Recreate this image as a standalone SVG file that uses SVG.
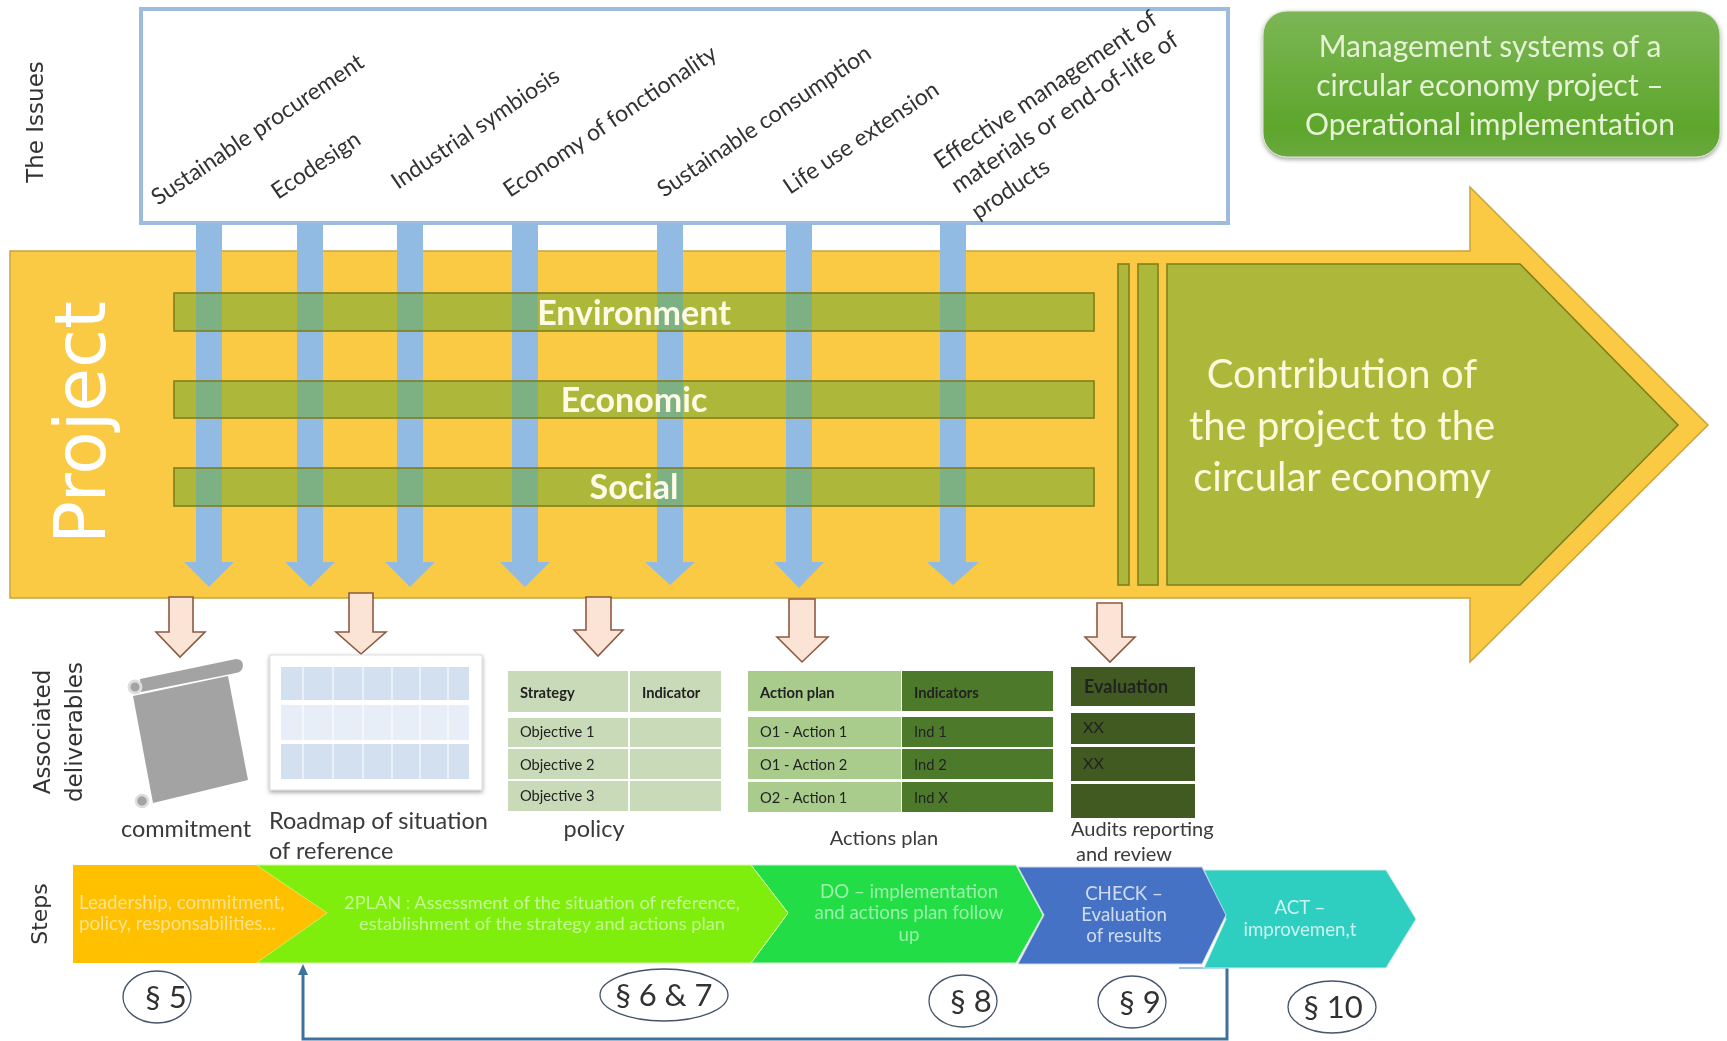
<svg xmlns="http://www.w3.org/2000/svg" width="1727" height="1041" viewBox="0 0 1727 1041">
<style>
text{font-family:Lato,"Liberation Sans",sans-serif}
.v{font-family:"DejaVu Sans",sans-serif;fill:#333;font-size:23px;text-anchor:middle}
.iss{font-size:23px;fill:#333}
.iss2{font-size:24px;fill:#333}
.band{fill:#6ba834;fill-opacity:.54;stroke:#7f7f1c;stroke-width:1.6}
.bandt{font-size:34px;font-weight:700;fill:#fdfbe6;text-anchor:middle}
.blue{fill:#92bbe3}
.peach{fill:#fbe4d5;stroke:#8c5a42;stroke-width:1.6}
.cap{font-size:23.5px;fill:#3a3a3a}
.cap2{font-size:20px;fill:#3a3a3a}
.st{font-size:18.7px;text-anchor:middle;fill-opacity:.75;fill:#fff}
.st2{font-size:18.7px;fill-opacity:.55;fill:#fff}
.st3{font-size:18.2px;fill-opacity:.55;fill:#fff;text-anchor:middle}
.el{fill:#fff;stroke:#44546a;stroke-width:1.3}
.par{font-size:31px;fill:#333;text-anchor:middle}
.tt{font-size:14.7px;fill:#222}
.c1{fill:#c9dab8}.c2{fill:#a9cc8c}.c3{fill:#4e7a2c}.c4{fill:#3f5a22}
</style>
<defs>
<linearGradient id="tg" x1="0" y1="0" x2="0" y2="1"><stop offset="0" stop-color="#7cb655"/><stop offset=".8" stop-color="#5da62c"/><stop offset="1" stop-color="#6aa83e"/></linearGradient>
<filter id="sh" x="-5%" y="-5%" width="110%" height="115%"><feDropShadow dx="0" dy="2" stdDeviation="2" flood-color="#555" flood-opacity=".55"/></filter>
<filter id="soft" filterUnits="userSpaceOnUse" x="0" y="0" width="1727" height="1041"><feGaussianBlur stdDeviation=".55"/></filter>
</defs>
<g id="diagram" filter="url(#soft)">
<g id="issues-box">
<rect x="141" y="9" width="1087" height="214" fill="#fff" stroke="#9dbbdc" stroke-width="4"/>
<text class="iss" transform="translate(158 206) rotate(-34)">Sustainable procurement</text>
<text class="iss" transform="translate(278 200) rotate(-34)">Ecodesign</text>
<text class="iss" transform="translate(398 190) rotate(-34)">Industrial symbiosis</text>
<text class="iss" transform="translate(510 198) rotate(-34)">Economy of fonctionality</text>
<text class="iss" transform="translate(664 198) rotate(-34)">Sustainable consumption</text>
<text class="iss" transform="translate(790 195) rotate(-34)">Life use extension</text>
<text class="iss2" transform="translate(941 170) rotate(-34)">Effective management of</text>
<text class="iss2" transform="translate(958 194) rotate(-34)">materials or end-of-life of</text>
<text class="iss" transform="translate(978 220) rotate(-34)">products</text>
</g>

<g id="title">
<rect x="1263" y="11" width="457" height="146" rx="24" fill="url(#tg)" stroke="#dfe8d6" stroke-width="1" filter="url(#sh)"/>
<g font-size="30" fill="#e6f2d6" text-anchor="middle">
<text x="1490" y="57">Management systems of a</text>
<text x="1490" y="96">circular economy project –</text>
<text x="1490" y="135">Operational implementation</text>
</g>
</g>

<g id="project-arrow">
<path d="M10 251H1470V187L1708 425L1470 662V598H10Z" fill="#fbca45" stroke="#c9a23a" stroke-width="1.5"/>
<text transform="translate(105 544) rotate(-90)" style="font-family:'DejaVu Sans',sans-serif" font-size="71" fill="#fff">Project</text>
</g>

<g id="connectors">
<g id="issue-arrows">
<path class="blue" d="M196 224H222V562H234L209 587L184 562H196Z"/>
<path class="blue" d="M297 224H323V562H335L310 587L285 562H297Z"/>
<path class="blue" d="M397 224H423V562H435L410 587L385 562H397Z"/>
<path class="blue" d="M512 224H538V562H550L525 587L500 562H512Z"/>
<path class="blue" d="M657 224H683V562H695L670 585L645 562H657Z"/>
<path class="blue" d="M786 224H812V562H824L799 588L774 562H786Z"/>
<path class="blue" d="M940 224H966V562H979L953 585L927 562H940Z"/>
</g>
<g id="deliverable-arrows">
<path class="peach" d="M169 597H193V632H205L180 657L156 632H169Z"/>
<path class="peach" d="M349 593H373V632H386L361 654L336 632H349Z"/>
<path class="peach" d="M586 597H611V630H623L598 656L574 630H586Z"/>
<path class="peach" d="M789 599H815V637H828L802 662L777 637H789Z"/>
<path class="peach" d="M1097 603H1122V637H1135L1110 662L1085 637H1097Z"/>
</g>
<g id="feedback" fill="none">
<path d="M1179 968H1227" stroke="#9dc3e6" stroke-width="2"/>
<path d="M1227 968V1039H303V972" stroke="#41719c" stroke-width="3"/>
<path d="M303 964L308 975H298Z" fill="#41719c"/>
</g>
</g>

<g id="contribution">
<rect x="1118" y="264" width="11" height="321" class="band"/>
<rect x="1138" y="264" width="20" height="321" class="band"/>
<path d="M1167 264H1520L1678 425L1520 585H1167Z" class="band"/>
<g font-size="40" fill="#fbf8dc" text-anchor="middle">
<text x="1342" y="388">Contribution of</text>
<text x="1342" y="440">the project to the</text>
<text x="1342" y="491">circular economy</text>
</g>
</g>

<g id="band-environment"><rect x="174" y="293" width="920" height="38" class="band"/><text class="bandt" x="634" y="325">Environment</text></g>
<g id="band-economic"><rect x="174" y="381" width="920" height="37" class="band"/><text class="bandt" x="634" y="412">Economic</text></g>
<g id="band-social"><rect x="174" y="468" width="920" height="38" class="band"/><text class="bandt" x="634" y="499">Social</text></g>

<text class="v" transform="translate(43 122) rotate(-90)">The Issues</text>
<text class="v" transform="translate(50 732) rotate(-90)">Associated</text>
<text class="v" transform="translate(82 732) rotate(-90)">deliverables</text>
<text class="v" transform="translate(47 914) rotate(-90)" style="font-size:22px">Steps</text>

<g id="scroll">
<path d="M133 696L228 676L248 780L153 803Z" fill="#a3a3a3"/>
<path d="M140 679L236 659Q243 659 243 666Q242 672 236 673L141 692Z" fill="#a3a3a3"/>
<circle cx="135" cy="687" r="6" fill="#a3a3a3" stroke="#ddd" stroke-width="3"/>
<circle cx="142" cy="801" r="6" fill="#a3a3a3" stroke="#ddd" stroke-width="2.5"/>
</g>

<g id="roadmap">
<rect x="270" y="655" width="212" height="135" fill="#fff" stroke="#ddd" filter="url(#sh)"/>
<rect x="281" y="667" width="188" height="33" fill="#d3e0f0"/>
<rect x="281" y="705" width="188" height="35" fill="#e8eef7"/>
<rect x="281" y="744" width="188" height="35" fill="#d3e0f0"/>
<path d="M303 667V779M333 667V779M363 667V779M392 667V779M420 667V779M448 667V779" stroke="#fff" stroke-opacity=".5" stroke-width="2"/>
</g>

<g id="policy-table">
<rect class="c1" x="508" y="671" width="120" height="41"/><rect class="c1" x="630" y="671" width="91" height="41"/>
<rect class="c1" x="508" y="718" width="120" height="29"/><rect class="c1" x="630" y="718" width="91" height="29"/>
<rect class="c1" x="508" y="749" width="120" height="30"/><rect class="c1" x="630" y="749" width="91" height="30"/>
<rect class="c1" x="508" y="781" width="120" height="30"/><rect class="c1" x="630" y="781" width="91" height="30"/>
<text class="tt" x="520" y="698" font-weight="700">Strategy</text>
<text class="tt" x="642" y="698" font-weight="700">Indicator</text>
<text class="tt" x="520" y="737">Objective 1</text>
<text class="tt" x="520" y="770">Objective 2</text>
<text class="tt" x="520" y="801">Objective 3</text>
</g>

<g id="action-table">
<rect class="c2" x="748" y="671" width="153" height="40"/><rect class="c3" x="902" y="671" width="151" height="40"/>
<rect class="c2" x="748" y="717" width="153" height="30"/><rect class="c3" x="902" y="717" width="151" height="30"/>
<rect class="c2" x="748" y="749" width="153" height="30"/><rect class="c3" x="902" y="749" width="151" height="30"/>
<rect class="c2" x="748" y="782" width="153" height="30"/><rect class="c3" x="902" y="782" width="151" height="30"/>
<text class="tt" x="760" y="698" font-weight="700">Action plan</text>
<text class="tt" x="914" y="698" font-weight="700">Indicators</text>
<text class="tt" x="760" y="737">O1 - Action 1</text>
<text class="tt" x="914" y="737">Ind 1</text>
<text class="tt" x="760" y="770">O1 - Action 2</text>
<text class="tt" x="914" y="770">Ind 2</text>
<text class="tt" x="760" y="803">O2 - Action 1</text>
<text class="tt" x="914" y="803">Ind X</text>
</g>

<g id="evaluation-table">
<rect class="c4" x="1071" y="667" width="124" height="39"/>
<rect class="c4" x="1071" y="713" width="124" height="31"/>
<rect class="c4" x="1071" y="747" width="124" height="34"/>
<rect class="c4" x="1071" y="784" width="124" height="34"/>
<text x="1084" y="693" fill="#222" font-weight="700" style="font-size:18px">Evaluation</text>
<text x="1083" y="733" fill="#222" style="font-size:16px">XX</text>
<text x="1083" y="769" fill="#222" style="font-size:16px">XX</text>
</g>

<g id="captions">
<text class="cap" x="186" y="837" text-anchor="middle">commitment</text>
<text class="cap" x="269" y="829">Roadmap of situation</text>
<text class="cap" x="269" y="859">of reference</text>
<text class="cap" x="594" y="837" text-anchor="middle">policy</text>
<text class="cap2" x="884" y="845" text-anchor="middle">Actions plan</text>
<text class="cap2" x="1071" y="836">Audits reporting</text>
<text class="cap2" x="1076" y="861">and review</text>
</g>

<g id="step-act">
<path d="M1204 870H1386L1416 919L1386 968H1204L1226 919Z" fill="#2fcfc0" stroke="#c8f0ec" stroke-width="1"/>
<text class="st" x="1300" y="914">ACT –</text>
<text class="st" x="1300" y="936">improvemen,t</text>
</g>
<g id="step-check">
<path d="M1018 867H1202L1226 915L1202 964H1018L1044 915Z" fill="#4472c4" stroke="#c9d6ee" stroke-width="1"/>
<text class="st" x="1124" y="900">CHECK –</text>
<text class="st" x="1124" y="921">Evaluation</text>
<text class="st" x="1124" y="942">of results</text>
</g>
<g id="step-do">
<path d="M751 865H1016L1043 915L1016 963H751L788 913Z" fill="#22dd44" stroke="#c9f5d1" stroke-width="1"/>
<text class="st2" text-anchor="middle" x="909" y="898">DO  – implementation</text>
<text class="st2" text-anchor="middle" x="909" y="919">and  actions plan follow</text>
<text class="st2" text-anchor="middle" x="909" y="941">up</text>
</g>
<g id="step-plan">
<path d="M256 865H751L788 913L751 963H256L327 913Z" fill="#7fee10" stroke="#d5f8a8" stroke-width="1"/>
<text class="st3" x="542" y="909">2PLAN : Assessment of the situation of reference,</text>
<text class="st3" x="542" y="930">establishment of the strategy and actions plan</text>
</g>
<g id="step-leadership">
<path d="M73 865H256L327 913L256 963H73Z" fill="#ffc000"/>
<text class="st2" x="79" y="909">Leadership, commitment,</text>
<text class="st2" x="79" y="930">policy, responsabilities...</text>
</g>

<g id="par-5"><ellipse class="el" cx="157" cy="997" rx="34" ry="26"/><text class="par" x="166" y="1008">§ 5</text></g>
<g id="par-6-7"><ellipse class="el" cx="664" cy="995" rx="64" ry="26"/><text class="par" x="664" y="1006">§ 6 &amp; 7</text></g>
<g id="par-8"><ellipse class="el" cx="963" cy="1001" rx="34" ry="26"/><text class="par" x="971" y="1012">§ 8</text></g>
<g id="par-9"><ellipse class="el" cx="1132" cy="1002" rx="34" ry="26"/><text class="par" x="1140" y="1013">§ 9</text></g>
<g id="par-10"><ellipse class="el" cx="1332" cy="1007" rx="44" ry="26"/><text class="par" x="1333" y="1018">§ 10</text></g>
</g>
</svg>
